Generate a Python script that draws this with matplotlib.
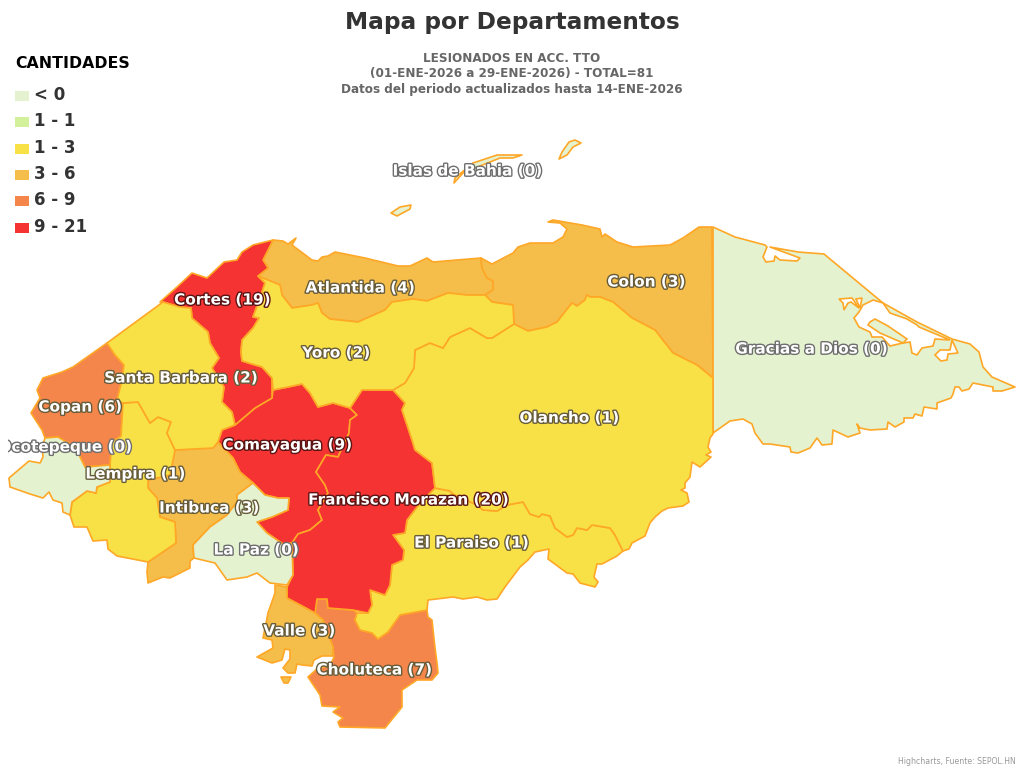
import matplotlib
matplotlib.use('Agg')
import matplotlib.pyplot as plt
import matplotlib.patheffects as pe
from matplotlib.patches import Polygon, Rectangle

# cantidades por departamento
departamentos = ['Atlantida', 'Colon', 'Comayagua', 'Copan', 'Cortes', 'Choluteca', 'El Paraiso',
                 'Francisco Morazan', 'Gracias a Dios', 'Intibuca', 'Islas de Bahia', 'La Paz',
                 'Lempira', 'Ocotepeque', 'Olancho', 'Santa Barbara', 'Valle', 'Yoro']
cantidades = [4, 3, 9, 6, 19, 7, 1, 20, 0, 3, 0, 0, 1, 0, 1, 2, 3, 2]

clases = ['< 0', '1 - 1', '1 - 3', '3 - 6', '6 - 9', '9 - 21']
limites = [1, 1, 3, 6, 9, 22]   # limite superior de cada clase
colores = ['#e4f2cf', '#d3f19b', '#f8e047', '#f5bd4a', '#f4854b', '#f53333']

atlantida = [(273,240),(283,241),(288,244),(296,238),(292,245),(312,260),(318,261),(322,257),(328,256),(335,252),
             (365,258),(398,266),(410,266),(427,258),(433,262),(481,258),(482,268),(487,278),(493,281),(493,290),
             (485,295),(467,295),(448,293),(427,301),(413,299),(392,302),(385,310),(358,322),
             (330,319),(322,313),(318,303),(312,305),(292,308),(282,295),(280,285),(258,276),(268,268),(263,260)]
colon = [(481,258),(492,264),(513,253),(518,247),(530,243),(553,243),(563,237),(567,229),(560,223),(548,222),
         (553,220),(582,225),(600,229),(602,237),(605,234),(617,242),(633,247),(670,245),(683,238),(699,227),
         (712,227),(713,378),(697,365),(673,353),(655,330),(632,318),(613,302),(600,297),(590,297),(587,295),
         (585,300),(577,306),(572,303),(557,322),(547,327),(528,331),(514,324),(513,305),(492,302),(485,295),
         (493,290),(493,281),(487,278),(482,268)]
cortes = [(160,302),(177,287),(192,273),(207,278),(224,262),(237,260),(242,252),(253,245),(273,240),(263,260),
          (268,268),(258,276),(265,283),(260,298),(253,317),(259,318),(253,328),(242,340),(241,352),(242,361),
          (262,367),(272,378),(272,398),(255,408),(235,425),(232,412),(222,402),(224,387),(212,368),(219,358),
          (210,343),(208,332),(192,318),(191,308),(180,307),(163,302)]
santa_barbara = [(163,302),(180,307),(191,308),(192,318),(208,332),(210,343),(219,358),(212,368),(224,387),(222,402),
                 (232,412),(235,425),(222,430),(218,442),(213,448),(175,450),(167,433),(171,422),(158,417),(150,423),
                 (138,402),(123,403),(117,400),(122,380),(124,365),(115,355),(107,343)]
copan = [(107,343),(115,355),(124,365),(122,380),(117,400),(123,403),(122,420),(121,436),(110,443),(111,453),
         (110,465),(85,467),(80,457),(80,450),(68,443),(58,437),(45,438),(42,430),(31,413),(40,398),(37,390),
         (43,378),(62,372),(73,367)]
ocotepeque = [(45,438),(58,437),(68,443),(80,450),(80,457),(85,467),(110,465),(110,482),(97,487),(96,493),(87,491),
              (72,502),(70,515),(63,512),(62,503),(53,500),(49,492),(43,498),(30,494),(10,487),(9,478),(29,461),
              (40,463),(43,457),(42,447)]
lempira = [(123,403),(138,402),(150,423),(158,417),(171,422),(167,433),(175,450),(173,460),(170,475),(148,480),
           (148,488),(157,498),(160,517),(175,522),(176,543),(148,562),(117,556),(108,549),(107,540),(93,541),
           (87,527),(74,527),(70,515),(72,502),(87,491),(96,493),(97,487),(110,482),(110,465),(111,453),(110,443),
           (121,436),(122,420)]
intibuca = [(175,450),(213,448),(218,442),(233,458),(240,472),(253,483),(237,495),(237,502),(227,515),(210,527),
            (193,545),(194,558),(190,561),(190,568),(180,573),(170,578),(163,577),(148,583),(147,572),(148,562),
            (176,543),(175,522),(160,517),(157,498),(148,488),(148,480),(170,475),(173,460)]
la_paz = [(253,483),(265,495),(278,498),(289,498),(288,510),(272,517),(257,522),(267,533),(283,544),(292,543),
          (293,575),(287,585),(270,583),(257,573),(247,577),(227,580),(215,563),(194,558),(193,545),(210,527),
          (227,515),(237,502),(237,495)]
comayagua = [(235,425),(255,408),(272,398),(273,390),(288,387),(302,384),(310,393),(318,407),(333,403),(350,408),
             (357,415),(350,420),(349,433),(338,457),(326,455),(316,472),(325,485),(328,493),(318,510),(322,520),
             (310,530),(298,534),(292,543),(283,544),(267,533),(257,522),(272,517),(288,510),(289,498),(278,498),
             (265,495),(253,483),(240,472),(233,458),(218,442),(222,430)]
fco_morazan = [(362,390),(393,390),(405,403),(402,410),(412,440),(415,450),(432,463),(435,488),(420,503),(407,520),
               (405,533),(393,535),(404,550),(403,560),(392,565),(390,585),(385,595),(370,590),(372,605),(368,613),
               (353,610),(328,608),(327,599),(317,599),(315,613),(287,598),(287,587),(293,575),(292,543),(298,534),
               (310,530),(322,520),(318,510),(328,493),(325,485),(316,472),(326,455),(338,457),(349,433),(350,420),
               (357,415),(350,408)]
yoro = [(258,276),(280,285),(282,295),(292,308),(312,305),(318,303),(322,313),(330,319),(358,322),(385,310),
        (392,302),(413,299),(427,301),(448,293),(467,295),(485,295),(492,302),(513,305),(514,324),(492,338),
        (487,338),(470,328),(450,337),(443,348),(430,343),(415,350),(414,368),(405,383),(393,390),(362,390),
        (350,408),(333,403),(318,407),(310,393),(302,384),(288,387),(273,390),(272,378),(262,367),(242,361),
        (241,352),(242,340),(253,328),(259,318),(253,317),(260,298),(265,283)]
olancho = [(514,324),(528,331),(547,327),(557,322),(572,303),(577,306),(585,300),(587,295),(590,297),(600,297),
           (613,302),(632,318),(655,330),(673,353),(697,365),(713,378),(713,434),(710,438),(708,447),(711,452),
           (706,455),(711,457),(700,467),(692,462),(690,477),(685,483),(685,488),(681,490),(687,493),(689,502),
           (683,506),(668,508),(662,511),(655,517),(650,523),(645,536),(632,543),(629,549),(623,551),(615,535),
           (610,528),(592,525),(587,530),(577,528),(573,535),(567,537),(555,528),(550,516),(542,514),(539,517),
           (530,514),(523,502),(507,505),(497,511),(483,510),(477,505),(453,494),(450,491),(435,488),(432,463),
           (415,450),(412,440),(402,410),(405,403),(393,390),(405,383),(414,368),(415,350),(430,343),(443,348),
           (450,337),(470,328),(487,338),(492,338)]
el_paraiso = [(435,488),(450,491),(453,494),(477,505),(483,510),(497,511),(507,505),(523,502),(530,514),(539,517),
              (542,514),(550,516),(555,528),(567,537),(573,535),(577,528),(587,530),(592,525),(610,528),(615,535),
              (623,551),(617,556),(602,564),(597,564),(594,577),(598,582),(595,587),(580,583),(573,574),(567,573),
              (548,559),(549,549),(535,552),(528,560),(520,567),(505,587),(497,599),(487,600),(477,597),(463,599),
              (453,597),(428,600),(427,610),(400,615),(388,632),(378,639),(372,633),(360,630),(355,620),(357,613),
              (368,613),(372,605),(370,590),(385,595),(390,585),(392,565),(403,560),(404,550),(393,535),(405,533),
              (407,520),(420,503)]
choluteca = [(317,599),(327,599),(328,608),(353,610),(357,613),(355,620),(360,630),(372,633),(378,639),(388,632),
             (400,615),(427,610),(428,617),(432,620),(435,648),(437,663),(438,673),(432,680),(417,680),(402,690),
             (402,707),(385,728),(340,727),(338,722),(343,718),(333,712),(340,707),(322,706),(320,695),(308,677),
             (318,668),(330,666),(334,657),(333,647),(323,620),(315,613)]
valle = [(275,585),(287,587),(287,598),(315,613),(323,620),(333,647),(333,656),(322,656),(314,660),(312,666),
         (302,665),(297,664),(295,673),(288,673),(283,668),(290,659),(290,650),(285,649),(282,660),(272,663),
         (257,657),(273,648),(272,640),(263,638),(268,613),(275,593)]
valle_isla = [(281,677),(291,677),(288,683),(284,683)]
gracias = [(713,227),(735,237),(765,245),(767,247),(763,257),(766,262),(774,261),(775,256),(780,260),(797,261),
           (800,258),(770,247),(798,252),(824,254),(883,303),(917,322),(952,339),(970,344),(979,352),(983,367),
           (992,377),(1015,387),(1002,391),(993,391),(993,387),(973,383),(969,389),(962,391),(959,387),(955,387),
           (953,394),(951,398),(937,403),(937,409),(924,407),(922,416),(915,414),(913,418),(904,418),(904,422),
           (895,427),(888,422),(887,429),(870,430),(860,428),(857,424),(860,433),(848,437),(833,430),(832,444),
           (822,445),(817,438),(810,448),(798,453),(791,452),(790,447),(770,444),(763,444),(755,433),(752,424),
           (743,419),(730,421),(713,433)]
laguna_brus = [(859,312),(854,318),(859,327),(870,332),(872,337),(882,337),(890,346),(903,343),(910,342),(912,353),
               (917,355),(922,348),(933,346),(935,339),(950,340),(919,327),(917,325),(907,319),(890,313),(883,303),
               (873,300),(863,305)]
isla_brus = [(870,322),(875,319),(888,326),(907,339),(903,343),(880,333),(868,325)]
laguna_a = [(839,299),(852,298),(857,305),(859,308),(851,302),(848,303),(844,310),(843,303)]
laguna_b = [(856,299),(862,298),(860,308)]
laguna_caratasca = [(952,340),(958,353),(948,354),(947,360),(941,361),(935,355),(940,350),(950,350)]
roatan = [(454,183),(455,178),(473,163),(497,155),(522,155),(513,158),(500,158),(480,166),(463,173)]
guanaja = [(559,159),(562,152),(569,142),(575,140),(581,143),(573,147),(567,155)]
utila = [(391,213),(400,207),(411,205),(410,209),(397,216)]

contornos = {
    'Atlantida': [atlantida], 'Colon': [colon], 'Comayagua': [comayagua], 'Copan': [copan], 'Cortes': [cortes],
    'Choluteca': [choluteca], 'El Paraiso': [el_paraiso], 'Francisco Morazan': [fco_morazan],
    'Gracias a Dios': [gracias], 'Intibuca': [intibuca], 'Islas de Bahia': [roatan, guanaja, utila],
    'La Paz': [la_paz], 'Lempira': [lempira], 'Ocotepeque': [ocotepeque], 'Olancho': [olancho],
    'Santa Barbara': [santa_barbara], 'Valle': [valle, valle_isla], 'Yoro': [yoro],
}
etiquetas_xy = {
    'Atlantida': (360,288), 'Colon': (646,282), 'Comayagua': (287,445), 'Copan': (80,407), 'Cortes': (222,300),
    'Choluteca': (374,670), 'El Paraiso': (471,543), 'Francisco Morazan': (408,500), 'Gracias a Dios': (811,349),
    'Intibuca': (209,508), 'Islas de Bahia': (467,171), 'La Paz': (256,550), 'Lempira': (135,474),
    'Ocotepeque': (65,447), 'Olancho': (569,418), 'Santa Barbara': (181,378), 'Valle': (299,631), 'Yoro': (336,353),
}

BORDE = '#ffa726'


def color_de(valor):
    if valor < 1:
        return colores[0]
    for lim, col in zip(limites, colores):
        if valor < lim:
            return col
    return colores[-1]


fig = plt.figure(figsize=(10.24, 7.68), dpi=100, facecolor='white')
ax = fig.add_axes([0, 0, 1, 1])
ax.set_xlim(0, 1024)
ax.set_ylim(768, 0)
ax.axis('off')

for nombre, valor in zip(departamentos, cantidades):
    for contorno in contornos[nombre]:
        ax.add_patch(Polygon(contorno, closed=True, facecolor=color_de(valor), edgecolor=BORDE,
                             linewidth=1.2, joinstyle='round', zorder=2))

# lagunas de la costa
for laguna in [laguna_brus, laguna_a, laguna_b, laguna_caratasca]:
    ax.add_patch(Polygon(laguna, closed=True, facecolor='white', edgecolor=BORDE, linewidth=1.2, zorder=3))
ax.add_patch(Polygon(isla_brus, closed=True, facecolor=colores[0], edgecolor=BORDE, linewidth=1.2, zorder=4))

# etiquetas
recorte = Rectangle((8, 0), 1016, 768, transform=ax.transData)
for nombre, valor in zip(departamentos, cantidades):
    x, y = etiquetas_xy[nombre]
    fondo = color_de(valor)
    trazo = {'#f53333': '#5a1414', '#e4f2cf': '#6e6e6e'}.get(fondo, '#665c3a')
    t = ax.text(x, y, f'{nombre} ({valor})', ha='center', va='center', color='white', fontsize=11,
                fontweight='bold', zorder=6,
                path_effects=[pe.withStroke(linewidth=2, foreground=trazo)])
    if nombre == 'Ocotepeque':
        t.set_clip_path(recorte)
        t.set_clip_on(True)

# titulos
ax.text(512, 23, 'Mapa por Departamentos', ha='center', va='center', fontsize=16.75, fontweight='bold', color='#333333')
subtitulos = ['LESIONADOS EN ACC. TTO', '(01-ENE-2026 a 29-ENE-2026) - TOTAL=81',
              'Datos del periodo actualizados hasta 14-ENE-2026']
for y, linea in zip([58, 74, 90], subtitulos):
    ax.text(512, y, linea, ha='center', va='center', fontsize=8.65, fontweight='bold', color='#666666')

# leyenda
ax.text(15, 63, 'CANTIDADES', ha='left', va='center', fontsize=11.3, fontweight='bold', color='black')
for y, clase, col in zip([95, 121, 148, 174, 200, 227], clases, colores):
    ax.add_patch(Rectangle((15, y - 4.5), 14, 10, facecolor=col, edgecolor='none', zorder=2))
    ax.text(34, y, clase, ha='left', va='center', fontsize=12, fontweight='bold', color='#333333')

ax.text(1016, 761, 'Highcharts, Fuente: SEPOL.HN', ha='right', va='center', fontsize=5.6, color='#999999')

fig.savefig('out.png', dpi=100)
